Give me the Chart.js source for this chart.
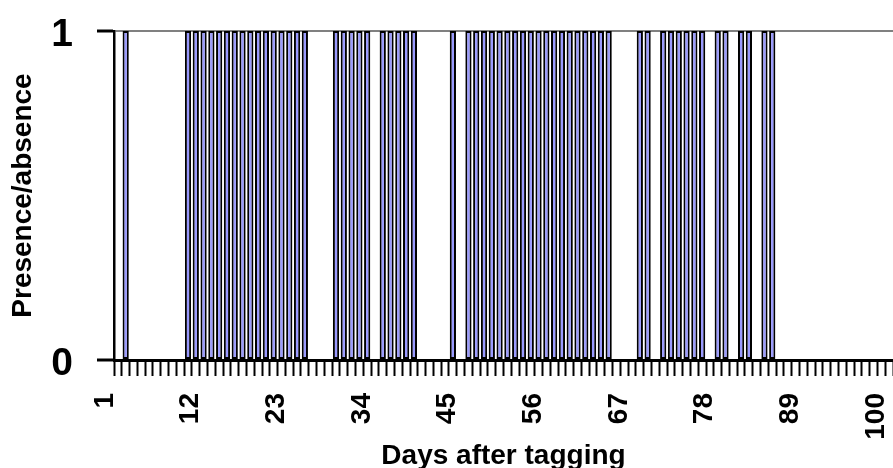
<!DOCTYPE html>
<html lang="en">
<head>
    <meta charset="UTF-8">
    <meta name="viewport" content="width=device-width, initial-scale=1.0">
    <title>Presence/absence after tagging</title>
    <script src="https://cdn.jsdelivr.net/npm/chart.js"></script>
    <style>
        body {
            margin: 0;
            background: #ffffff;
            overflow: hidden;
        }

        /* Chart container, same size as the window */
        #chart-container {
            width: 893px;
            height: 468px;
        }
    </style>
</head>
<body>

    <div id="chart-container">
        <canvas id="presenceChart"></canvas>
    </div>

    <script>
        // Days after tagging (categories)
        const days = [
            1, 2, 3, 4, 5, 6, 7, 8, 9, 10,
            11, 12, 13, 14, 15, 16, 17, 18, 19, 20,
            21, 22, 23, 24, 25, 26, 27, 28, 29, 30,
            31, 32, 33, 34, 35, 36, 37, 38, 39, 40,
            41, 42, 43, 44, 45, 46, 47, 48, 49, 50,
            51, 52, 53, 54, 55, 56, 57, 58, 59, 60,
            61, 62, 63, 64, 65, 66, 67, 68, 69, 70,
            71, 72, 73, 74, 75, 76, 77, 78, 79, 80,
            81, 82, 83, 84, 85, 86, 87, 88, 89, 90,
            91, 92, 93, 94, 95, 96, 97, 98, 99, 100
        ];

        // 1 = detected that day, 0 = not detected
        const presence = [
            0, 1, 0, 0, 0, 0, 0, 0, 0, 1,
            1, 1, 1, 1, 1, 1, 1, 1, 1, 1,
            1, 1, 1, 1, 1, 0, 0, 0, 1, 1,
            1, 1, 1, 0, 1, 1, 1, 1, 1, 0,
            0, 0, 0, 1, 0, 1, 1, 1, 1, 1,
            1, 1, 1, 1, 1, 1, 1, 1, 1, 1,
            1, 1, 1, 1, 0, 0, 0, 1, 1, 0,
            1, 1, 1, 1, 1, 1, 0, 1, 1, 0,
            1, 1, 0, 1, 1, 0, 0, 0, 0, 0,
            0, 0, 0, 0, 0, 0, 0, 0, 0, 0
        ];

        // Days that get a label on the x axis
        const tickDays = [1, 12, 23, 34, 45, 56, 67, 78, 89, 100];

        // Y axis ticks
        const yTicks = [0, 1];

        const FONT = "'Liberation Sans', Arial, sans-serif";

        const ctx = document.getElementById('presenceChart').getContext('2d');

        const presenceChart = new Chart(ctx, {
            type: 'bar',
            data: {
                labels: days,
                datasets: [{
                    label: 'Presence/absence',
                    data: presence,
                    backgroundColor: '#9999ff',
                    borderColor: '#000000',
                    borderWidth: 2,
                    borderSkipped: false,
                    barPercentage: 0.8,
                    categoryPercentage: 1.0
                }]
            },
            options: {
                responsive: true,
                maintainAspectRatio: false,
                animation: false,
                layout: {
                    padding: { top: 31, right: 0, bottom: 0, left: 0 }
                },
                plugins: {
                    legend: { display: false },
                    tooltip: { enabled: false }
                },
                scales: {
                    x: {
                        grid: {
                            offset: true,
                            drawOnChartArea: false,
                            drawTicks: true,
                            tickLength: 16,
                            tickColor: '#000000',
                            tickWidth: 2
                        },
                        border: { color: '#000000', width: 3 },
                        ticks: {
                            autoSkip: false,
                            minRotation: 90,
                            maxRotation: 90,
                            labelOffset: -13,
                            padding: 17,
                            color: '#000000',
                            font: { family: FONT, size: 28, weight: 'bold' },
                            callback: function (value, index) {
                                const day = days[index];
                                return tickDays.includes(day) ? String(day) : '';
                            }
                        },
                        title: {
                            display: true,
                            text: 'Days after tagging',
                            color: '#000000',
                            font: { family: FONT, size: 28, weight: 'bold' },
                            padding: { top: 0, bottom: -5 }
                        },
                        // fixed axis height, no extra side padding for the rotated labels
                        afterFit: function (scale) {
                            scale.height = 108;
                            scale.paddingLeft = 0;
                            scale.paddingRight = 0;
                        }
                    },
                    y: {
                        min: 0,
                        max: 1,
                        afterBuildTicks: function (scale) {
                            scale.ticks = yTicks.map(v => ({ value: v }));
                        },
                        grid: {
                            color: c => (c.tick && c.tick.value === 1) ? '#808080' : 'rgba(0,0,0,0)',
                            lineWidth: 2,
                            drawTicks: true,
                            tickLength: 17,
                            tickColor: '#000000',
                            tickWidth: 3
                        },
                        border: { color: '#000000', width: 2.5 },
                        ticks: {
                            padding: 24,
                            labelOffset: 4,
                            color: '#000000',
                            font: { family: FONT, size: 39, weight: 'bold' }
                        },
                        title: {
                            display: true,
                            text: 'Presence/absence',
                            color: '#000000',
                            font: { family: FONT, size: 28, weight: 'bold' },
                            padding: { top: 6, bottom: 0 }
                        },
                        afterFit: function (scale) {
                            scale.width = 114;
                            scale.paddingTop = 0;
                            scale.paddingBottom = 0;
                        }
                    }
                }
            }
        });
    </script>
</body>
</html>
